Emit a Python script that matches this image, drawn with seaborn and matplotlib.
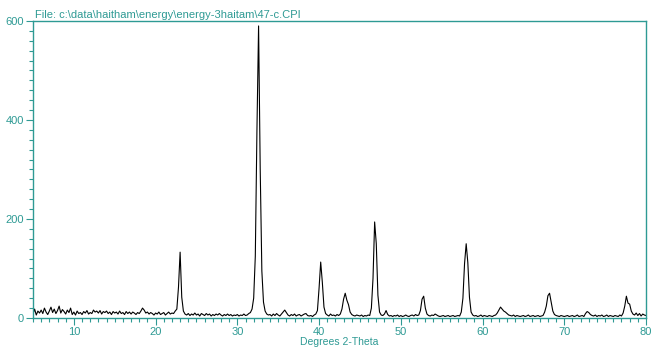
"""XRD pattern of sample 47-c, intensity against 2-theta."""

import matplotlib.pyplot as plt
from matplotlib.ticker import MultipleLocator
import numpy as np
import pandas as pd
import seaborn as sns

# intensity, one row per degree (steps of 0.2 deg)
start_angle = 5.0
step_angle = 0.2
intensity_rows = [
    [8, 18, 6, 14, 10],      # 5
    [16, 9, 20, 12, 7],      # 6
    [14, 22, 11, 18, 9],     # 7
    [15, 24, 10, 17, 13],    # 8
    [8, 16, 11, 20, 7],      # 9
    [12, 6, 14, 9, 11],      # 10
    [7, 13, 10, 15, 8],      # 11
    [11, 9, 16, 12, 14],     # 12
    [10, 15, 8, 13, 11],     # 13
    [14, 9, 12, 7, 13],      # 14
    [10, 12, 8, 14, 9],      # 15
    [11, 7, 13, 9, 12],      # 16
    [8, 12, 10, 7, 11],      # 17
    [9, 14, 20, 16, 10],     # 18
    [12, 8, 11, 9, 6],       # 19
    [10, 8, 12, 7, 9],       # 20
    [11, 6, 9, 12, 8],       # 21
    [10, 9, 14, 18, 62],     # 22
    [133, 42, 14, 8, 6],     # 23
    [9, 5, 8, 6, 10],        # 24
    [6, 8, 4, 9, 7],         # 25
    [5, 9, 6, 8, 4],         # 26
    [7, 5, 8, 6, 9],         # 27
    [6, 4, 7, 5, 8],         # 28
    [5, 7, 4, 6, 5],         # 29
    [7, 4, 6, 5, 8],         # 30
    [5, 6, 9, 11, 18],       # 31
    [40, 125, 380, 590, 300],  # 32
    [95, 32, 14, 8, 6],      # 33
    [7, 4, 8, 5, 9],         # 34
    [6, 4, 8, 12, 16],       # 35
    [11, 6, 4, 7, 5],        # 36
    [8, 4, 6, 7, 4],         # 37
    [6, 8, 9, 5, 4],         # 38
    [5, 3, 6, 8, 15],        # 39
    [60, 113, 72, 22, 9],    # 40
    [6, 4, 8, 5, 6],         # 41
    [4, 7, 5, 8, 18],        # 42
    [38, 50, 36, 27, 12],    # 43
    [7, 5, 4, 6, 5],         # 44
    [4, 6, 3, 5, 4],         # 45
    [6, 5, 20, 80, 194],     # 46
    [150, 46, 12, 6, 5],     # 47
    [8, 15, 7, 4, 5],        # 48
    [3, 5, 4, 6, 3],         # 49
    [5, 3, 4, 6, 4],         # 50
    [3, 5, 6, 4, 7],         # 51
    [5, 6, 15, 38, 44],      # 52
    [20, 8, 5, 4, 6],        # 53
    [5, 8, 6, 4, 3],         # 54
    [4, 5, 3, 4, 5],         # 55
    [3, 4, 5, 3, 4],         # 56
    [5, 4, 12, 40, 110],     # 57
    [150, 112, 42, 12, 6],   # 58
    [4, 5, 3, 4, 6],         # 59
    [3, 5, 4, 3, 5],         # 60
    [4, 3, 5, 6, 10],        # 61
    [16, 22, 18, 14, 12],    # 62
    [9, 6, 5, 4, 6],         # 63
    [3, 5, 4, 3, 4],         # 64
    [5, 3, 4, 6, 3],         # 65
    [4, 5, 3, 4, 5],         # 66
    [3, 4, 5, 12, 24],       # 67
    [45, 50, 32, 14, 7],     # 68
    [5, 4, 3, 5, 4],         # 69
    [3, 4, 5, 3, 4],         # 70
    [5, 3, 4, 6, 3],         # 71
    [4, 5, 3, 9, 13],        # 72
    [11, 7, 5, 4, 6],        # 73
    [3, 5, 4, 6, 3],         # 74
    [4, 6, 3, 5, 4],         # 75
    [3, 5, 4, 3, 6],         # 76
    [4, 10, 24, 44, 30],     # 77
    [28, 14, 8, 6, 10],      # 78
    [5, 9, 4, 8, 6],         # 79
    [5],                     # 80
]
file_label = "File: c:\\data\\haitham\\energy\\energy-3haitam\\47-c.CPI"
x_label = "Degrees 2-Theta"

TEAL = "#2e9a94"


def main():
    counts = [v for row in intensity_rows for v in row]
    angles = start_angle + step_angle * np.arange(len(counts))
    data = pd.DataFrame({"two_theta": angles, "counts": counts})

    sns.set_style("white")
    plt.rcParams["font.family"] = ["Liberation Sans", "DejaVu Sans"]

    fig = plt.figure(figsize=(6.52, 3.47), dpi=100)
    ax = fig.add_axes([0.0506, 0.0836, 0.9402, 0.8559])
    sns.lineplot(data=data, x="two_theta", y="counts", color="black",
                 linewidth=0.8, ax=ax)

    ax.set_xlim(5, 80)
    ax.set_ylim(0, 600)
    ax.xaxis.set_major_locator(MultipleLocator(10))
    ax.xaxis.set_minor_locator(MultipleLocator(1))
    ax.yaxis.set_major_locator(MultipleLocator(200))
    ax.yaxis.set_minor_locator(MultipleLocator(20))
    ax.tick_params(which="both", direction="out", colors=TEAL,
                   labelsize=8, width=0.8)
    ax.tick_params(which="major", length=5, pad=1.5)
    ax.tick_params(which="minor", length=3)
    ax.tick_params(axis="x", which="both", bottom=True)
    ax.tick_params(axis="y", which="both", left=True)
    for spine in ax.spines.values():
        spine.set_color(TEAL)
        spine.set_linewidth(1.0)

    ax.set_xlabel(x_label, color=TEAL, fontsize=7.5, va="top")
    ax.xaxis.set_label_coords(0.5, -0.063)
    ax.set_ylabel("")
    ax.text(0.003, 1.004, file_label, transform=ax.transAxes, color=TEAL,
            fontsize=8, ha="left", va="bottom")

    fig.savefig("out.png", dpi=100)


if __name__ == "__main__":
    main()
